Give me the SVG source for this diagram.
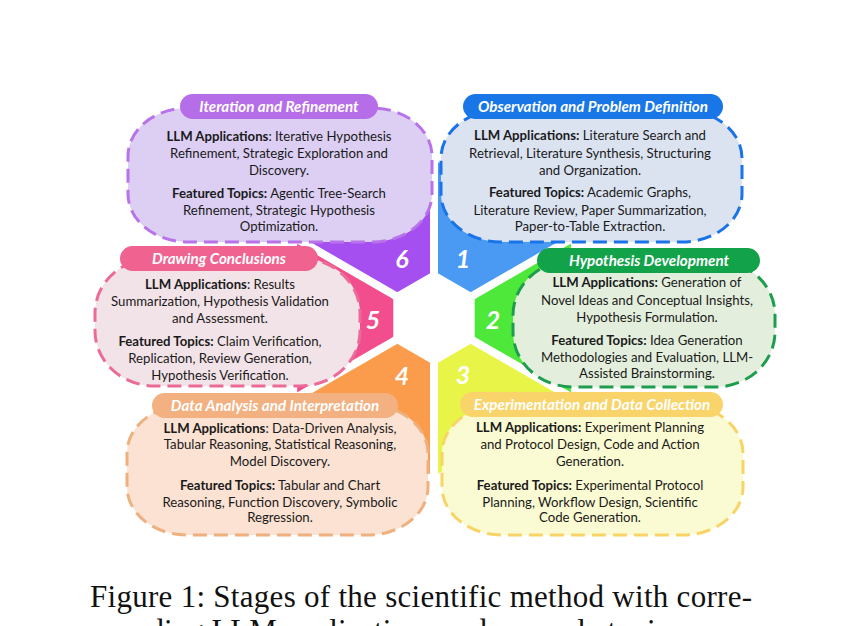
<svg xmlns="http://www.w3.org/2000/svg" width="868" height="626" viewBox="0 0 868 626">
<style>
.t{font-family:Lato,"Liberation Sans",sans-serif;font-size:13.2px;fill:#1a1a1a;text-anchor:middle}
.b{font-weight:bold}
.ttl{font-family:Lato,"Liberation Sans",sans-serif;font-size:15.2px;font-weight:bold;font-style:italic;fill:#ffffff;text-anchor:middle}
.num{font-family:Lato,"Liberation Sans",sans-serif;font-size:25px;font-weight:bold;font-style:italic;fill:#ffffff;text-anchor:middle}
.box{stroke-width:3;stroke-dasharray:14 7}
.cap{font-family:"Liberation Serif","Times New Roman",serif;font-size:31px;fill:#111}
</style>
<rect width="868" height="626" fill="#ffffff"/>
<g id="hub">
<polygon points="434,318 434,160 570.8,239" fill="#4a9af4"/>
<polygon points="434,318 570.8,239 570.8,397" fill="#4ee83a"/>
<polygon points="434,318 570.8,397 434,476" fill="#e8f548"/>
<polygon points="434,318 434,476 297.2,397" fill="#fb9c4c"/>
<polygon points="434,318 297.2,397 297.2,239" fill="#f24d8c"/>
<polygon points="434,318 297.2,239 434,160" fill="#a64ff0"/>
<g stroke="#ffffff" stroke-width="8">
<line x1="434" y1="318" x2="434" y2="150"/>
<line x1="434" y1="318" x2="434" y2="486"/>
<line x1="434" y1="318" x2="579.5" y2="234"/>
<line x1="434" y1="318" x2="579.5" y2="402"/>
<line x1="434" y1="318" x2="288.5" y2="234"/>
<line x1="434" y1="318" x2="288.5" y2="402"/>
</g>
<polygon points="434,271 474.7,294.5 474.7,341.5 434,365 393.3,341.5 393.3,294.5" fill="#ffffff"/>
<text class="num" x="402" y="268">6</text>
<text class="num" x="463" y="268">1</text>
<text class="num" x="373" y="329">5</text>
<text class="num" x="493" y="329">2</text>
<text class="num" x="402" y="385">4</text>
<text class="num" x="463" y="384">3</text>
</g>
<g id="stage6">
<rect class="box" x="128" y="108" width="304" height="134" rx="60" ry="48" fill="#dccff3" stroke="#b873ea"/>
<rect x="180" y="94" width="198" height="25" rx="12.5" fill="#b66ee8"/>
<text class="ttl" x="279" y="112">Iteration and Refinement</text>
<text class="t" x="279" y="141"><tspan class="b">LLM Applications</tspan>: Iterative Hypothesis</text>
<text class="t" x="279" y="158">Refinement, Strategic Exploration and</text>
<text class="t" x="279" y="175">Discovery.</text>
<text class="t" x="279" y="198"><tspan class="b">Featured Topics:</tspan> Agentic Tree-Search</text>
<text class="t" x="279" y="215">Refinement, Strategic Hypothesis</text>
<text class="t" x="279" y="231">Optimization.</text>
</g>
<g id="stage1">
<rect class="box" x="441" y="110" width="301" height="132" rx="60" ry="48" fill="#dbe3f1" stroke="#1a73e8"/>
<rect x="463" y="94" width="260" height="25" rx="12.5" fill="#1976e6"/>
<text class="ttl" x="593" y="112">Observation and Problem Definition</text>
<text class="t" x="590" y="140"><tspan class="b">LLM Applications:</tspan> Literature Search and</text>
<text class="t" x="590" y="158">Retrieval, Literature Synthesis, Structuring</text>
<text class="t" x="590" y="175">and Organization.</text>
<text class="t" x="590" y="197"><tspan class="b">Featured Topics:</tspan> Academic Graphs,</text>
<text class="t" x="590" y="215">Literature Review, Paper Summarization,</text>
<text class="t" x="590" y="231">Paper-to-Table Extraction.</text>
</g>
<g id="stage5">
<rect class="box" x="95" y="258" width="265" height="128" rx="60" ry="55" fill="#f2e3e8" stroke="#ec6a98"/>
<rect x="120" y="246" width="198" height="25" rx="12.5" fill="#f0628f"/>
<text class="ttl" x="219" y="264">Drawing Conclusions</text>
<text class="t" x="220" y="289"><tspan class="b">LLM Applications</tspan>: Results</text>
<text class="t" x="220" y="306">Summarization, Hypothesis Validation</text>
<text class="t" x="220" y="323">and Assessment.</text>
<text class="t" x="220" y="346"><tspan class="b">Featured Topics:</tspan> Claim Verification,</text>
<text class="t" x="220" y="363">Replication, Review Generation,</text>
<text class="t" x="220" y="380">Hypothesis Verification.</text>
</g>
<g id="stage2">
<rect class="box" x="513" y="260" width="262" height="127" rx="60" ry="55" fill="#e3efdc" stroke="#1f9d4f"/>
<rect x="537" y="248" width="223" height="25" rx="12.5" fill="#12a24a"/>
<text class="ttl" x="649" y="266">Hypothesis Development</text>
<text class="t" x="647" y="287"><tspan class="b">LLM Applications:</tspan> Generation of</text>
<text class="t" x="647" y="305">Novel Ideas and Conceptual Insights,</text>
<text class="t" x="647" y="322">Hypothesis Formulation.</text>
<text class="t" x="647" y="345"><tspan class="b">Featured Topics:</tspan> Idea Generation</text>
<text class="t" x="647" y="362">Methodologies and Evaluation, LLM-</text>
<text class="t" x="647" y="378">Assisted Brainstorming.</text>
</g>
<g id="stage4">
<rect class="box" x="127" y="405" width="301" height="130" rx="60" ry="48" fill="#fbe2d2" stroke="#efb07f"/>
<rect x="152" y="393" width="246" height="25" rx="12.5" fill="#f3b080"/>
<text class="ttl" x="275" y="411">Data Analysis and Interpretation</text>
<text class="t" x="280" y="433"><tspan class="b">LLM Applications</tspan>: Data-Driven Analysis,</text>
<text class="t" x="280" y="449">Tabular Reasoning, Statistical Reasoning,</text>
<text class="t" x="280" y="466">Model Discovery.</text>
<text class="t" x="280" y="490"><tspan class="b">Featured Topics:</tspan> Tabular and Chart</text>
<text class="t" x="280" y="507">Reasoning, Function Discovery, Symbolic</text>
<text class="t" x="280" y="522">Regression.</text>
</g>
<g id="stage3">
<rect class="box" x="442" y="405" width="301" height="130" rx="60" ry="48" fill="#fafbd2" stroke="#f8d467"/>
<rect x="460" y="392" width="263" height="25" rx="12.5" fill="#f9d46a"/>
<text class="ttl" x="592" y="410">Experimentation and Data Collection</text>
<text class="t" x="590" y="432"><tspan class="b">LLM Applications:</tspan> Experiment Planning</text>
<text class="t" x="590" y="449">and Protocol Design, Code and Action</text>
<text class="t" x="590" y="466">Generation.</text>
<text class="t" x="590" y="490"><tspan class="b">Featured Topics:</tspan> Experimental Protocol</text>
<text class="t" x="590" y="507">Planning, Workflow Design, Scientific</text>
<text class="t" x="590" y="522">Code Generation.</text>
</g>
<g id="caption">
<text class="cap" x="90" y="607" textLength="662" lengthAdjust="spacing">Figure 1:  Stages of the scientific method with corre-</text>
<text class="cap" x="90" y="641">sponding LLM applications and example topics.</text>
</g>
</svg>
